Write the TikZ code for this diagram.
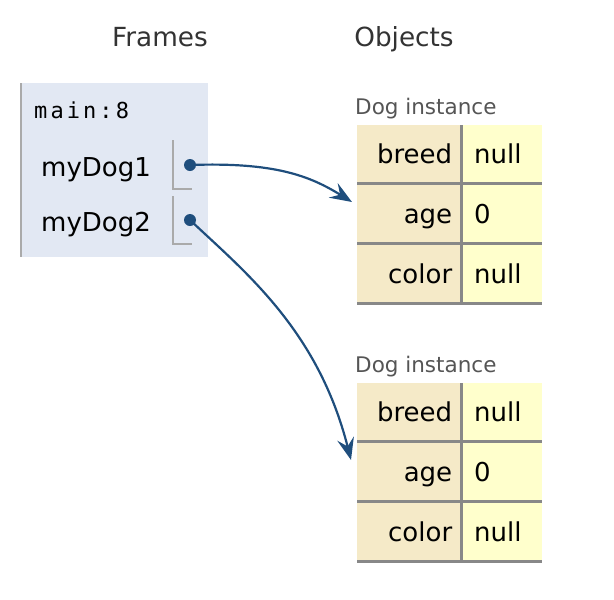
\documentclass[tikz,border=0pt]{standalone}
\usepackage{fontspec}
\setmainfont{DejaVu Sans}
\newfontfamily\monoft[LetterSpace=14]{DejaVu Sans Mono}
\usetikzlibrary{arrows.meta}
\definecolor{framebg}{HTML}{E2E8F3}
\definecolor{keybg}{HTML}{F5EAC8}
\definecolor{valbg}{HTML}{FFFFCC}
\definecolor{rulegray}{HTML}{AAAAAA}
\definecolor{sepgray}{HTML}{888888}
\definecolor{arrowblue}{HTML}{1F4E7D}
\definecolor{titlegray}{HTML}{333333}
\definecolor{labelgray}{HTML}{555555}
\tikzset{
  title/.style={font=\fontsize{26.3}{30}\selectfont, text=titlegray, inner sep=0pt},
  varname/.style={font=\fontsize{26}{30}\selectfont, text=black, inner sep=0pt, anchor=west},
  instlabel/.style={font=\fontsize{21.5}{24}\selectfont, text=labelgray, inner sep=0pt, anchor=base west},
  keycell/.style={fill=keybg, draw=none, minimum width=103pt, minimum height=57pt, inner sep=0pt},
  valcell/.style={fill=valbg, draw=none, minimum width=79pt, minimum height=57pt, inner sep=0pt},
  celltext/.style={font=\fontsize{26}{30}\selectfont, text=black, inner sep=0pt},
  sep/.style={draw=sepgray, line width=2.5pt},
  bracket/.style={draw=rulegray, line width=1.8pt},
  ptr/.style={draw=arrowblue, line width=2.2pt, -{Stealth[length=22pt, width=17pt, inset=8pt]}},
  dot/.style={circle, fill=arrowblue, minimum size=12pt, inner sep=0pt}
}
\begin{document}
\begin{tikzpicture}[x=1pt, y=-1pt]
\useasboundingbox (0,0) rectangle (614,600);
% titles
\node[title, anchor=base] (tframes) at (160,46) {Frames};
\node[title, anchor=base] (tobjects) at (404,46) {Objects};
% frame
\fill[framebg] (20,83) rectangle (208,257);
\draw[draw=rulegray, line width=2.5pt] (21,83) -- (21,257);
\node[font=\fontsize{22}{24}\selectfont\monoft, inner sep=0pt, anchor=base west] (fname) at (34,118) {main:8};
\node[varname, anchor=base west] (v1) at (41,176) {myDog1};
\node[varname, anchor=base west] (v2) at (41,231) {myDog2};
\draw[bracket] (173,140) -- (173,189) -- (192,189);
\draw[bracket] (173,196) -- (173,244) -- (192,244);
\node[dot] (d1) at (190,165) {};
\node[dot] (d2) at (190,220) {};
% object tables
\foreach \oy/\nm in {125/a, 383/b}{
  \node[instlabel] (lab\nm) at (355,\oy-11) {Dog instance};
  \foreach \r/\k/\v in {0/breed/null, 1/age/0, 2/color/null}{
    \pgfmathsetmacro{\ry}{\oy+\r*60}
    \node[keycell, anchor=north west] (k\nm\r) at (357,\ry) {};
    \node[valcell, anchor=north west] (w\nm\r) at (463,\ry) {};
    \node[celltext, anchor=base east] at ([xshift=-8pt, yshift=19pt]k\nm\r.south east) {\k};
    \node[celltext, anchor=base west] at ([xshift=11pt, yshift=19pt]w\nm\r.south west) {\v};
    \draw[sep] ([yshift=-1.25pt]k\nm\r.south west) -- ([yshift=-1.25pt]w\nm\r.south east);
    \draw[draw=sepgray, line width=2.5pt] ([xshift=-1.5pt]w\nm\r.north west) -- ([xshift=-1.5pt, yshift=-2.5pt]w\nm\r.south west);
  }
}
% arrows
\coordinate (t1) at (352,202);
\coordinate (t2) at (351,460);
\draw[ptr] (d1.center) .. controls (275,162) and (310,176) .. (t1);
\draw[ptr] (d2.center) .. controls (245,272) and (318,330) .. (t2);
\end{tikzpicture}
\end{document}
